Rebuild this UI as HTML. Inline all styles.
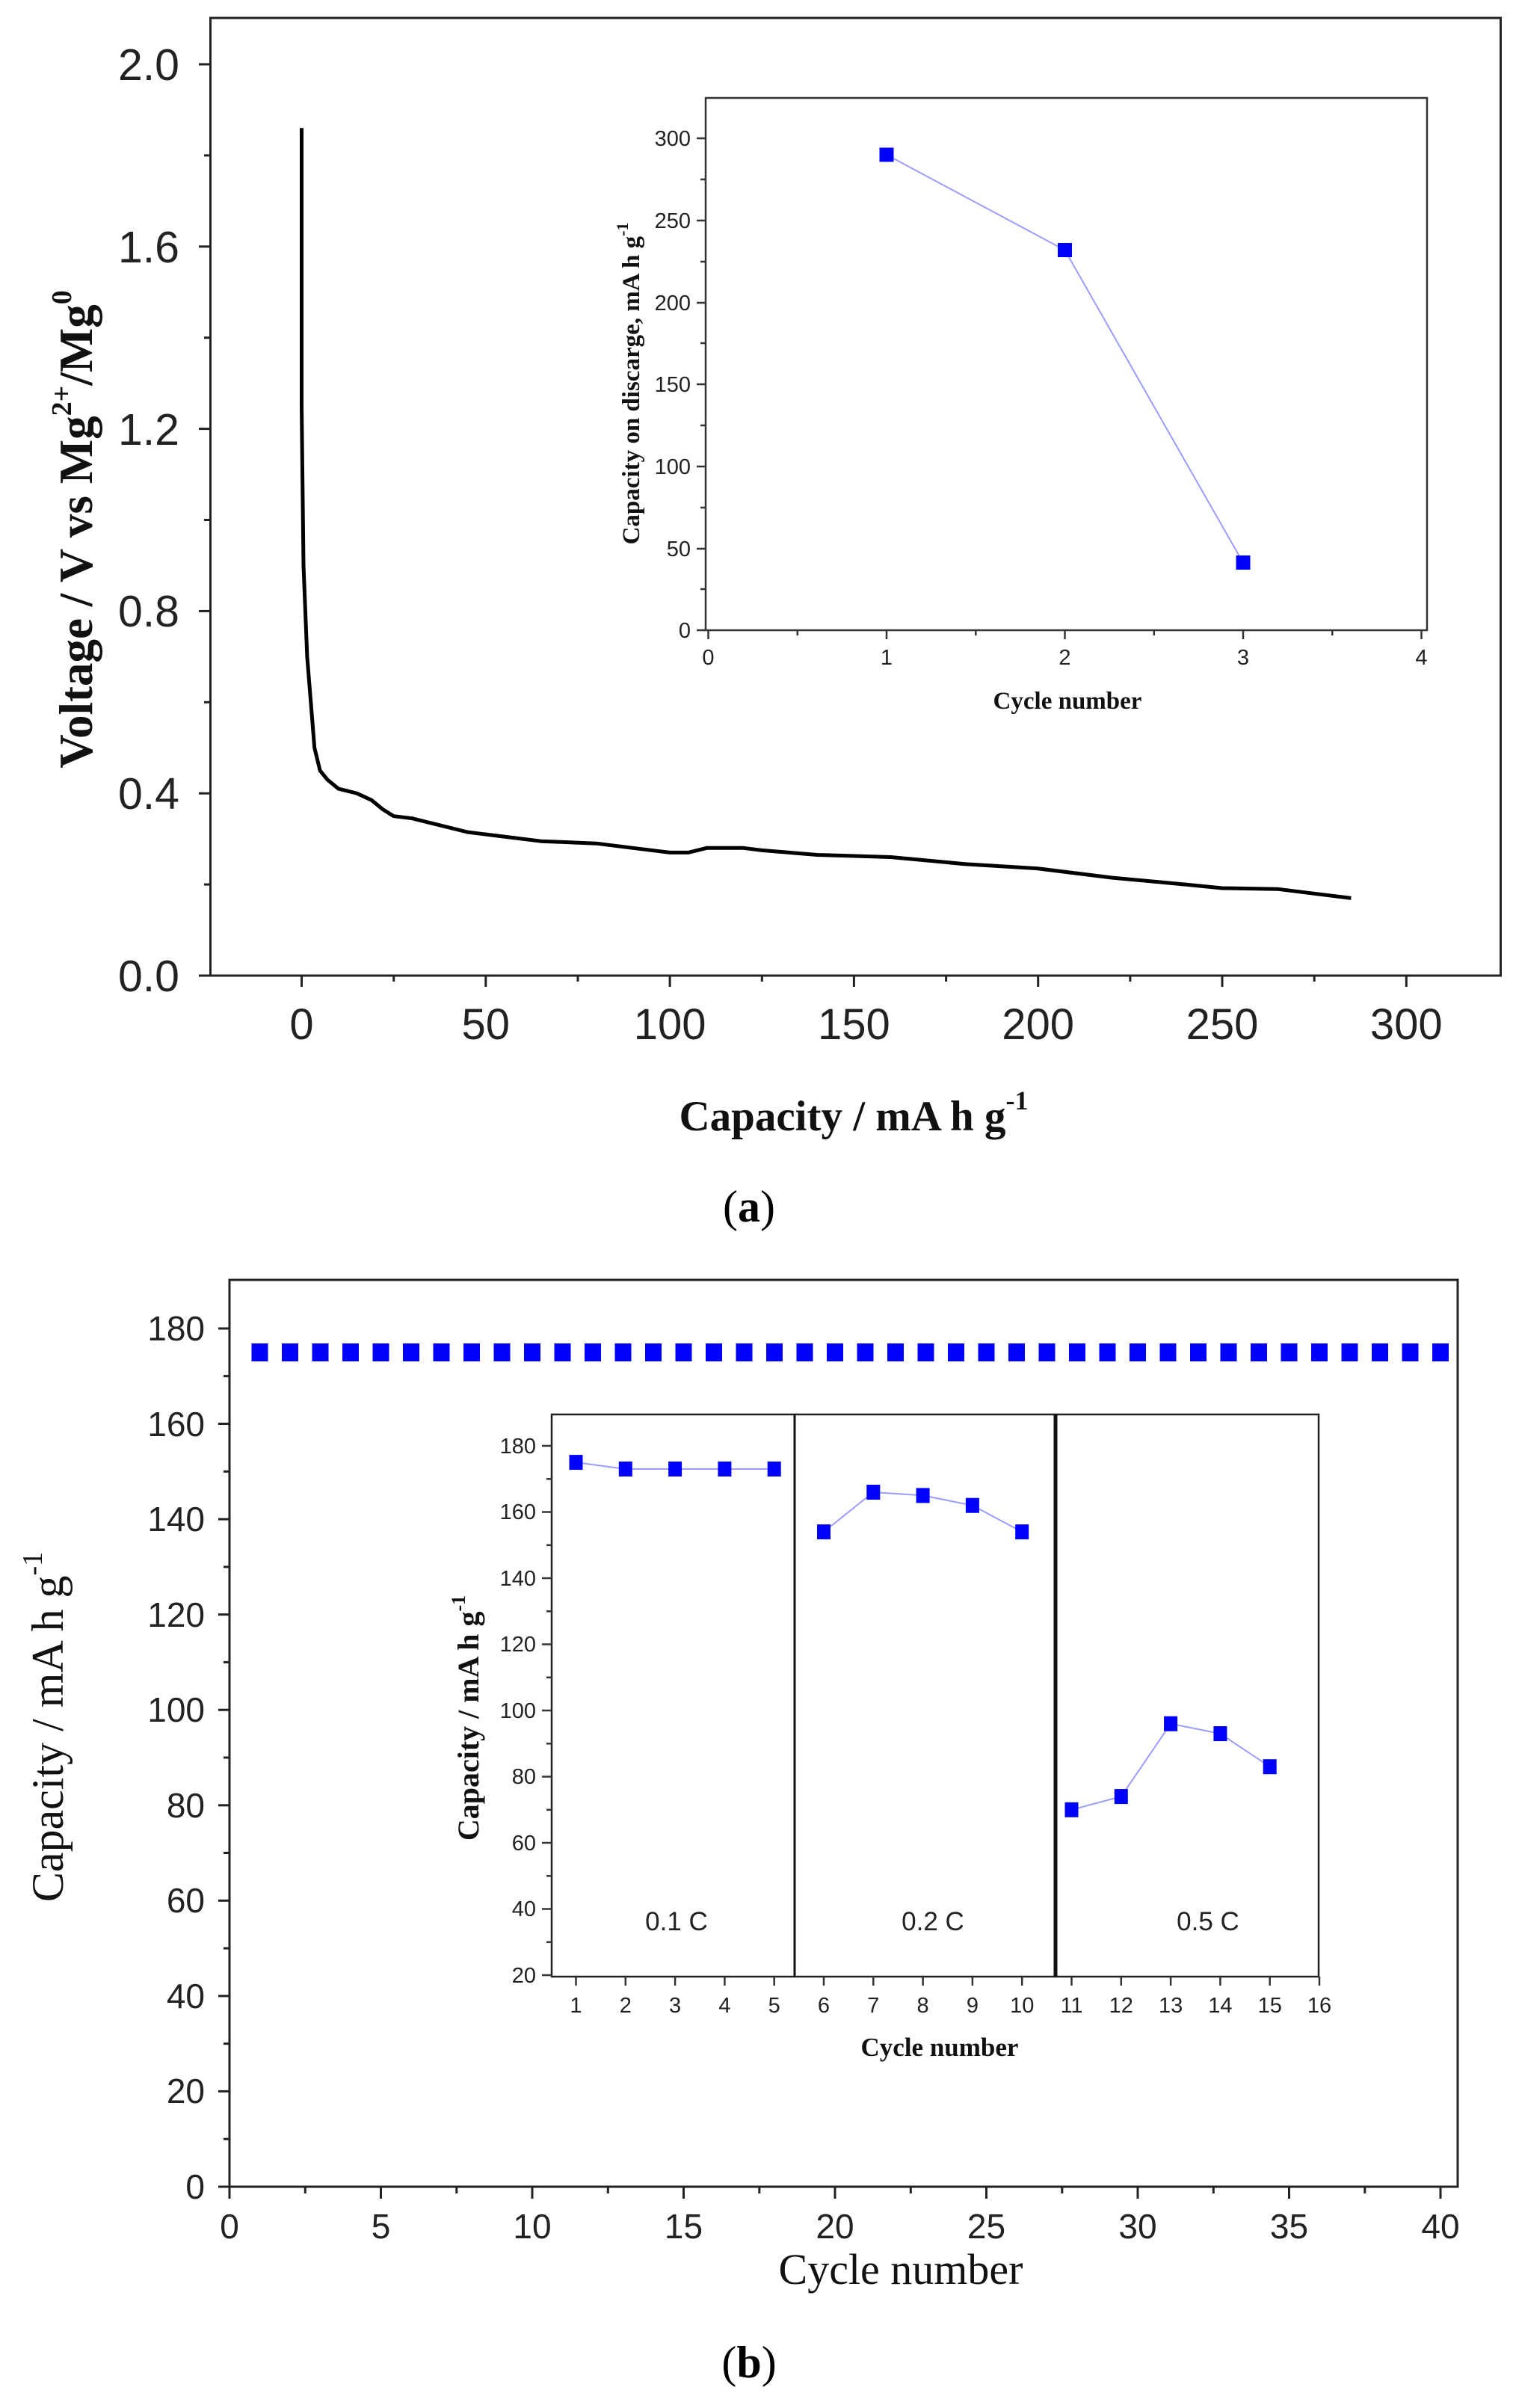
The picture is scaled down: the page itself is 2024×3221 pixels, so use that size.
<!DOCTYPE html>
<html><head><meta charset="utf-8"><style>html,body{margin:0;padding:0;background:#fff}svg{display:block}</style></head>
<body>
<svg width="2024" height="3221" viewBox="0 0 2024 3221" xmlns="http://www.w3.org/2000/svg">
<rect width="2024" height="3221" fill="#fff"/>
<!-- ================= PANEL A ================= -->
<g stroke="#222" fill="none">
<rect x="281.5" y="24" width="1726" height="1281" stroke-width="3"/>
<g stroke-width="3">
<line x1="266" y1="1305" x2="281.5" y2="1305"/><line x1="266" y1="1061.2" x2="281.5" y2="1061.2"/>
<line x1="266" y1="817.4" x2="281.5" y2="817.4"/><line x1="266" y1="573.6" x2="281.5" y2="573.6"/>
<line x1="266" y1="329.8" x2="281.5" y2="329.8"/><line x1="266" y1="86" x2="281.5" y2="86"/>
<line x1="273" y1="1183.1" x2="281.5" y2="1183.1"/><line x1="273" y1="939.3" x2="281.5" y2="939.3"/>
<line x1="273" y1="695.5" x2="281.5" y2="695.5"/><line x1="273" y1="451.7" x2="281.5" y2="451.7"/>
<line x1="273" y1="207.9" x2="281.5" y2="207.9"/>
</g>
<g stroke-width="3">
<line x1="403.5" y1="1305" x2="403.5" y2="1320"/><line x1="649.8" y1="1305" x2="649.8" y2="1320"/>
<line x1="896.1" y1="1305" x2="896.1" y2="1320"/><line x1="1142.4" y1="1305" x2="1142.4" y2="1320"/>
<line x1="1388.7" y1="1305" x2="1388.7" y2="1320"/><line x1="1635" y1="1305" x2="1635" y2="1320"/>
<line x1="1881.3" y1="1305" x2="1881.3" y2="1320"/>
<line x1="526.7" y1="1305" x2="526.7" y2="1313"/><line x1="773" y1="1305" x2="773" y2="1313"/>
<line x1="1019.3" y1="1305" x2="1019.3" y2="1313"/><line x1="1265.6" y1="1305" x2="1265.6" y2="1313"/>
<line x1="1511.9" y1="1305" x2="1511.9" y2="1313"/><line x1="1758.2" y1="1305" x2="1758.2" y2="1313"/>
</g>
</g>
<g font-family="Liberation Sans, sans-serif" font-size="59" fill="#222" text-anchor="end">
<text x="240" y="1326">0.0</text><text x="240" y="1082">0.4</text><text x="240" y="838">0.8</text>
<text x="240" y="595">1.2</text><text x="240" y="351">1.6</text><text x="240" y="107">2.0</text>
</g>
<g font-family="Liberation Sans, sans-serif" font-size="58" fill="#222" text-anchor="middle">
<text x="403.5" y="1390">0</text><text x="649.8" y="1390">50</text><text x="896.1" y="1390">100</text>
<text x="1142.4" y="1390">150</text><text x="1388.7" y="1390">200</text><text x="1635" y="1390">250</text>
<text x="1881.3" y="1390">300</text>
</g>
<text transform="translate(123,708) rotate(-90)" font-family="Liberation Serif, serif" font-weight="bold" font-size="63" fill="#111" text-anchor="middle">Voltage / V vs Mg<tspan font-size="38" dy="-28">2+</tspan><tspan dy="28">/Mg</tspan><tspan font-size="38" dy="-28">0</tspan></text>
<text x="1142" y="1512" font-family="Liberation Serif, serif" font-weight="bold" font-size="57" fill="#111" text-anchor="middle">Capacity / mA h g<tspan font-size="36" dy="-28">-1</tspan></text>
<text x="1002" y="1634" font-family="Liberation Serif, serif" font-size="60" fill="#000" text-anchor="middle">(<tspan font-weight="bold">a</tspan>)</text>
<path d="M403.5,171.3 L403.5,543.1 L406,756.5 L410.9,878.4 L415.8,939.3 L420.7,1000.3 L428.1,1030.7 L438,1042.9 L452.8,1055.1 L477.4,1061.2 L497.1,1070.3 L511.9,1082.5 L526.7,1091.7 L551.3,1094.7 L575.9,1100.8 L625.2,1113 L674.4,1119.1 L723.7,1125.2 L797.6,1128.2 L846.8,1134.3 L896.1,1140.4 L920.7,1140.4 L945.4,1134.3 L994.6,1134.3 L1019.3,1137.4 L1093.1,1143.5 L1191.7,1146.5 L1290.2,1155.7 L1388.7,1161.8 L1487.2,1174 L1585.7,1183.1 L1635,1188 L1708.9,1189.2 L1758.2,1195.3 L1807.4,1201.4" fill="none" stroke="#000" stroke-width="5" stroke-linejoin="round"/>
<!-- inset a -->
<g stroke="#333" fill="none" stroke-width="2.5">
<rect x="944" y="131" width="965" height="712"/>
<line x1="932" y1="843" x2="944" y2="843"/><line x1="932" y1="734" x2="944" y2="734"/>
<line x1="932" y1="624" x2="944" y2="624"/><line x1="932" y1="514" x2="944" y2="514"/>
<line x1="932" y1="405" x2="944" y2="405"/><line x1="932" y1="295" x2="944" y2="295"/>
<line x1="932" y1="185" x2="944" y2="185"/>
<line x1="937" y1="788" x2="944" y2="788"/><line x1="937" y1="679" x2="944" y2="679"/>
<line x1="937" y1="569" x2="944" y2="569"/><line x1="937" y1="459" x2="944" y2="459"/>
<line x1="937" y1="350" x2="944" y2="350"/><line x1="937" y1="240" x2="944" y2="240"/>
<line x1="947.5" y1="843" x2="947.5" y2="855"/><line x1="1186" y1="843" x2="1186" y2="855"/>
<line x1="1424.5" y1="843" x2="1424.5" y2="855"/><line x1="1663" y1="843" x2="1663" y2="855"/>
<line x1="1901.5" y1="843" x2="1901.5" y2="855"/>
<line x1="1066.8" y1="843" x2="1066.8" y2="850"/><line x1="1305.3" y1="843" x2="1305.3" y2="850"/>
<line x1="1543.8" y1="843" x2="1543.8" y2="850"/><line x1="1782.3" y1="843" x2="1782.3" y2="850"/>
</g>
<g font-family="Liberation Sans Narrow, Liberation Sans, sans-serif" font-size="29" fill="#222" text-anchor="end">
<text x="924" y="853">0</text><text x="924" y="744">50</text><text x="924" y="634">100</text>
<text x="924" y="524">150</text><text x="924" y="415">200</text><text x="924" y="305">250</text><text x="924" y="195">300</text>
</g>
<g font-family="Liberation Sans Narrow, Liberation Sans, sans-serif" font-size="29" fill="#222" text-anchor="middle">
<text x="947.5" y="889">0</text><text x="1186" y="889">1</text><text x="1424.5" y="889">2</text><text x="1663" y="889">3</text><text x="1901.5" y="889">4</text>
</g>
<text transform="translate(855,513) rotate(-90)" font-family="Liberation Serif, serif" font-weight="bold" font-size="33" fill="#111" text-anchor="middle">Capacity on discarge, mA h g<tspan font-size="22" dy="-15">-1</tspan></text>
<text x="1428" y="948" font-family="Liberation Serif, serif" font-weight="bold" font-size="33" fill="#111" text-anchor="middle">Cycle number</text>
<polyline points="1186,207 1424.5,334.6 1663,752.8" fill="none" stroke="#9c9cff" stroke-width="2"/>
<g fill="#0000ff">
<rect x="1176.5" y="197.5" width="19" height="19"/><rect x="1415" y="325" width="19" height="19"/><rect x="1653.5" y="743" width="19" height="19"/>
</g>

<!-- ================= PANEL B ================= -->
<g stroke="#222" fill="none" stroke-width="3">
<rect x="307" y="1712" width="1643" height="1213"/>
</g>
<g stroke="#222" stroke-width="3">
<line x1="292" y1="2925" x2="307" y2="2925"/><line x1="292" y1="2797.4" x2="307" y2="2797.4"/>
<line x1="292" y1="2669.9" x2="307" y2="2669.9"/><line x1="292" y1="2542.3" x2="307" y2="2542.3"/>
<line x1="292" y1="2414.8" x2="307" y2="2414.8"/><line x1="292" y1="2287.2" x2="307" y2="2287.2"/>
<line x1="292" y1="2159.6" x2="307" y2="2159.6"/><line x1="292" y1="2032.1" x2="307" y2="2032.1"/>
<line x1="292" y1="1904.5" x2="307" y2="1904.5"/><line x1="292" y1="1777" x2="307" y2="1777"/>
<line x1="299" y1="2861.2" x2="307" y2="2861.2"/><line x1="299" y1="2733.7" x2="307" y2="2733.7"/>
<line x1="299" y1="2606.1" x2="307" y2="2606.1"/><line x1="299" y1="2478.5" x2="307" y2="2478.5"/>
<line x1="299" y1="2351" x2="307" y2="2351"/><line x1="299" y1="2223.4" x2="307" y2="2223.4"/>
<line x1="299" y1="2095.9" x2="307" y2="2095.9"/><line x1="299" y1="1968.3" x2="307" y2="1968.3"/>
<line x1="299" y1="1840.7" x2="307" y2="1840.7"/>
<line x1="307" y1="2925" x2="307" y2="2941"/><line x1="509.5" y1="2925" x2="509.5" y2="2941"/>
<line x1="712" y1="2925" x2="712" y2="2941"/><line x1="914.5" y1="2925" x2="914.5" y2="2941"/>
<line x1="1117" y1="2925" x2="1117" y2="2941"/><line x1="1319.5" y1="2925" x2="1319.5" y2="2941"/>
<line x1="1522" y1="2925" x2="1522" y2="2941"/><line x1="1724.5" y1="2925" x2="1724.5" y2="2941"/>
<line x1="1927" y1="2925" x2="1927" y2="2941"/>
<line x1="408.3" y1="2925" x2="408.3" y2="2934"/><line x1="610.8" y1="2925" x2="610.8" y2="2934"/>
<line x1="813.3" y1="2925" x2="813.3" y2="2934"/><line x1="1015.8" y1="2925" x2="1015.8" y2="2934"/>
<line x1="1218.3" y1="2925" x2="1218.3" y2="2934"/><line x1="1420.8" y1="2925" x2="1420.8" y2="2934"/>
<line x1="1623.3" y1="2925" x2="1623.3" y2="2934"/><line x1="1825.8" y1="2925" x2="1825.8" y2="2934"/>
</g>
<g font-family="Liberation Sans, sans-serif" font-size="46" fill="#222" text-anchor="end">
<text x="274" y="2941">0</text><text x="274" y="2813">20</text><text x="274" y="2686">40</text>
<text x="274" y="2558">60</text><text x="274" y="2431">80</text><text x="274" y="2303">100</text>
<text x="274" y="2176">120</text><text x="274" y="2048">140</text><text x="274" y="1921">160</text><text x="274" y="1793">180</text>
</g>
<g font-family="Liberation Sans, sans-serif" font-size="46" fill="#222" text-anchor="middle">
<text x="307" y="2994">0</text><text x="509.5" y="2994">5</text><text x="712" y="2994">10</text>
<text x="914.5" y="2994">15</text><text x="1117" y="2994">20</text><text x="1319.5" y="2994">25</text>
<text x="1522" y="2994">30</text><text x="1724.5" y="2994">35</text><text x="1927" y="2994">40</text>
</g>
<text transform="translate(84,2310) rotate(-90)" font-family="Liberation Serif, serif" font-size="60" fill="#111" text-anchor="middle">Capacity / mA h g<tspan font-size="38" dy="-28">-1</tspan></text>
<text x="1205" y="3055" font-family="Liberation Serif, serif" font-size="58" fill="#111" text-anchor="middle">Cycle number</text>
<text x="1002" y="3180" font-family="Liberation Serif, serif" font-size="60" fill="#000" text-anchor="middle">(<tspan font-weight="bold">b</tspan>)</text>
<g fill="#0000ff">
<rect x="336.5" y="1797" width="22" height="24"/><rect x="377" y="1797" width="22" height="24"/><rect x="417.5" y="1797" width="22" height="24"/><rect x="458" y="1797" width="22" height="24"/>
<rect x="498.5" y="1797" width="22" height="24"/><rect x="539" y="1797" width="22" height="24"/><rect x="579.5" y="1797" width="22" height="24"/><rect x="620" y="1797" width="22" height="24"/>
<rect x="660.5" y="1797" width="22" height="24"/><rect x="701" y="1797" width="22" height="24"/><rect x="741.5" y="1797" width="22" height="24"/><rect x="782" y="1797" width="22" height="24"/>
<rect x="822.5" y="1797" width="22" height="24"/><rect x="863" y="1797" width="22" height="24"/><rect x="903.5" y="1797" width="22" height="24"/><rect x="944" y="1797" width="22" height="24"/>
<rect x="984.5" y="1797" width="22" height="24"/><rect x="1025" y="1797" width="22" height="24"/><rect x="1065.5" y="1797" width="22" height="24"/><rect x="1106" y="1797" width="22" height="24"/>
<rect x="1146.5" y="1797" width="22" height="24"/><rect x="1187" y="1797" width="22" height="24"/><rect x="1227.5" y="1797" width="22" height="24"/><rect x="1268" y="1797" width="22" height="24"/>
<rect x="1308.5" y="1797" width="22" height="24"/><rect x="1349" y="1797" width="22" height="24"/><rect x="1389.5" y="1797" width="22" height="24"/><rect x="1430" y="1797" width="22" height="24"/>
<rect x="1470.5" y="1797" width="22" height="24"/><rect x="1511" y="1797" width="22" height="24"/><rect x="1551.5" y="1797" width="22" height="24"/><rect x="1592" y="1797" width="22" height="24"/>
<rect x="1632.5" y="1797" width="22" height="24"/><rect x="1673" y="1797" width="22" height="24"/><rect x="1713.5" y="1797" width="22" height="24"/><rect x="1754" y="1797" width="22" height="24"/>
<rect x="1794.5" y="1797" width="22" height="24"/><rect x="1835" y="1797" width="22" height="24"/><rect x="1875.5" y="1797" width="22" height="24"/><rect x="1916" y="1797" width="22" height="24"/>
</g>
<!-- inset b -->
<g stroke="#222" fill="none" stroke-width="2.5">
<rect x="738" y="1892" width="1026" height="752"/>
</g>
<line x1="1063" y1="1892" x2="1063" y2="2644" stroke="#111" stroke-width="3"/>
<line x1="1412" y1="1892" x2="1412" y2="2644" stroke="#111" stroke-width="5"/>
<g stroke="#333" stroke-width="2.5">
<line x1="725" y1="2642" x2="738" y2="2642"/><line x1="725" y1="2553.5" x2="738" y2="2553.5"/><line x1="725" y1="2465" x2="738" y2="2465"/>
<line x1="725" y1="2376.5" x2="738" y2="2376.5"/><line x1="725" y1="2288" x2="738" y2="2288"/><line x1="725" y1="2199.5" x2="738" y2="2199.5"/>
<line x1="725" y1="2111" x2="738" y2="2111"/><line x1="725" y1="2022.5" x2="738" y2="2022.5"/><line x1="725" y1="1934" x2="738" y2="1934"/>
<line x1="731" y1="2597.8" x2="738" y2="2597.8"/><line x1="731" y1="2509.3" x2="738" y2="2509.3"/><line x1="731" y1="2420.8" x2="738" y2="2420.8"/>
<line x1="731" y1="2332.3" x2="738" y2="2332.3"/><line x1="731" y1="2243.8" x2="738" y2="2243.8"/><line x1="731" y1="2155.3" x2="738" y2="2155.3"/>
<line x1="731" y1="2066.8" x2="738" y2="2066.8"/><line x1="731" y1="1978.3" x2="738" y2="1978.3"/>
<line x1="770.5" y1="2644" x2="770.5" y2="2656"/><line x1="836.8" y1="2644" x2="836.8" y2="2656"/><line x1="903.1" y1="2644" x2="903.1" y2="2656"/>
<line x1="969.4" y1="2644" x2="969.4" y2="2656"/><line x1="1035.7" y1="2644" x2="1035.7" y2="2656"/><line x1="1102" y1="2644" x2="1102" y2="2656"/>
<line x1="1168.3" y1="2644" x2="1168.3" y2="2656"/><line x1="1234.6" y1="2644" x2="1234.6" y2="2656"/><line x1="1300.9" y1="2644" x2="1300.9" y2="2656"/>
<line x1="1367.2" y1="2644" x2="1367.2" y2="2656"/><line x1="1433.5" y1="2644" x2="1433.5" y2="2656"/><line x1="1499.8" y1="2644" x2="1499.8" y2="2656"/>
<line x1="1566.1" y1="2644" x2="1566.1" y2="2656"/><line x1="1632.4" y1="2644" x2="1632.4" y2="2656"/><line x1="1698.7" y1="2644" x2="1698.7" y2="2656"/>
<line x1="1765" y1="2644" x2="1765" y2="2656"/>
</g>
<g font-family="Liberation Sans Narrow, Liberation Sans, sans-serif" font-size="29" fill="#222" text-anchor="end">
<text x="717" y="2652">20</text><text x="717" y="2563">40</text><text x="717" y="2475">60</text><text x="717" y="2386">80</text>
<text x="717" y="2298">100</text><text x="717" y="2209">120</text><text x="717" y="2121">140</text><text x="717" y="2032">160</text><text x="717" y="1944">180</text>
</g>
<g font-family="Liberation Sans Narrow, Liberation Sans, sans-serif" font-size="29" fill="#222" text-anchor="middle">
<text x="770.5" y="2692">1</text><text x="836.8" y="2692">2</text><text x="903.1" y="2692">3</text><text x="969.4" y="2692">4</text>
<text x="1035.7" y="2692">5</text><text x="1102" y="2692">6</text><text x="1168.3" y="2692">7</text><text x="1234.6" y="2692">8</text>
<text x="1300.9" y="2692">9</text><text x="1367.2" y="2692">10</text><text x="1433.5" y="2692">11</text><text x="1499.8" y="2692">12</text>
<text x="1566.1" y="2692">13</text><text x="1632.4" y="2692">14</text><text x="1698.7" y="2692">15</text><text x="1765" y="2692">16</text>
</g>
<text transform="translate(640,2298) rotate(-90)" font-family="Liberation Serif, serif" font-weight="bold" font-size="40" fill="#111" text-anchor="middle">Capacity / mA h g<tspan font-size="26" dy="-18">-1</tspan></text>
<text x="1257" y="2750" font-family="Liberation Serif, serif" font-weight="bold" font-size="35" fill="#111" text-anchor="middle">Cycle number</text>
<g font-family="Liberation Sans, sans-serif" font-size="35" fill="#222" text-anchor="middle">
<text x="905" y="2582">0.1 C</text><text x="1248" y="2582">0.2 C</text><text x="1616" y="2582">0.5 C</text>
</g>
<g fill="none" stroke="#9c9cff" stroke-width="2">
<polyline points="770.5,1956.1 836.8,1965 903.1,1965 969.4,1965 1035.7,1965"/>
<polyline points="1102,2049.1 1168.3,1996 1234.6,2000.4 1300.9,2013.7 1367.2,2049.1"/>
<polyline points="1433.5,2420.8 1499.8,2403.1 1566.1,2305.7 1632.4,2319 1698.7,2363.2"/>
</g>
<g fill="#0000ff">
<rect x="761.5" y="1946.1" width="18" height="20"/><rect x="827.8" y="1955" width="18" height="20"/><rect x="894.1" y="1955" width="18" height="20"/>
<rect x="960.4" y="1955" width="18" height="20"/><rect x="1026.7" y="1955" width="18" height="20"/>
<rect x="1093" y="2039.1" width="18" height="20"/><rect x="1159.3" y="1986" width="18" height="20"/><rect x="1225.6" y="1990.4" width="18" height="20"/>
<rect x="1291.9" y="2003.7" width="18" height="20"/><rect x="1358.2" y="2039.1" width="18" height="20"/>
<rect x="1424.5" y="2410.8" width="18" height="20"/><rect x="1490.8" y="2393.1" width="18" height="20"/><rect x="1557.1" y="2295.7" width="18" height="20"/>
<rect x="1623.4" y="2309" width="18" height="20"/><rect x="1689.7" y="2353.2" width="18" height="20"/>
</g>
</svg>
</body></html>
